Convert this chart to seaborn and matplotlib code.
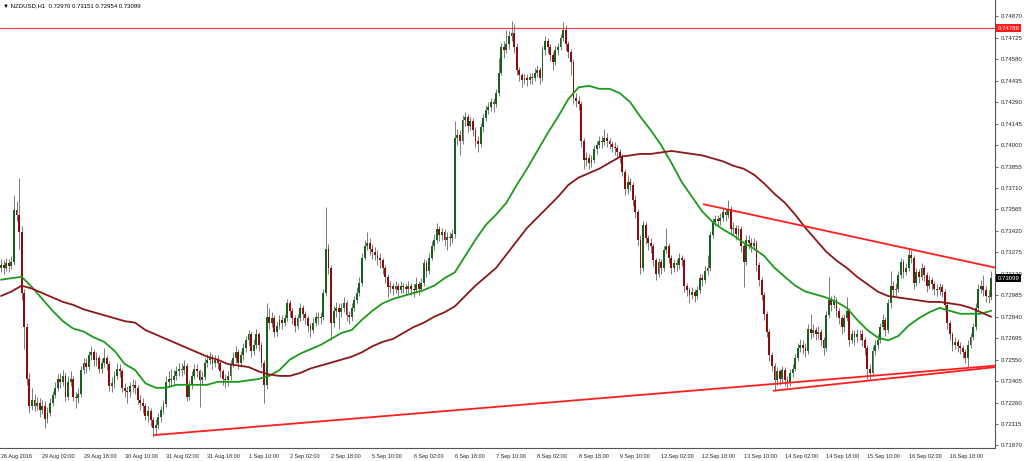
import matplotlib
matplotlib.use("Agg")
import matplotlib.pyplot as plt
import matplotlib.transforms as mtransforms
import seaborn as sns
import numpy as np
import pandas as pd

# NZDUSD H1, prices in units of 0.0001
title_text = "\u25bc NZDUSD,H1  0.72970 0.73151 0.72954 0.73099"
first_open = 7317

closes = [
    7319, 7317, 7320, 7318, 7321, 7356, 7353, 7341, 7300, 7277,
    7242, 7224, 7228, 7224, 7226, 7221, 7224, 7215, 7219, 7226,
    7231, 7236, 7242, 7240, 7244, 7230, 7240, 7242, 7230, 7229,
    7232, 7248, 7253, 7250, 7258, 7260, 7255, 7256, 7249, 7253,
    7256, 7252, 7237, 7239, 7244, 7249, 7247, 7236, 7234, 7233,
    7237, 7238, 7236, 7228, 7226, 7224, 7217, 7220, 7214, 7209,
    7211, 7216, 7221, 7225, 7240, 7242, 7241, 7244, 7247, 7249,
    7248, 7251, 7230, 7238, 7244, 7249, 7247, 7241, 7243, 7253,
    7255, 7256, 7253, 7255, 7253, 7247, 7242, 7241, 7244, 7252,
    7256, 7260, 7253, 7258, 7263, 7268, 7272, 7261, 7265, 7272,
    7265, 7253, 7238, 7284, 7280, 7283, 7274, 7278, 7282, 7280,
    7283, 7293, 7288, 7283, 7278, 7283, 7290, 7286, 7283, 7278,
    7275, 7280, 7284, 7283, 7284, 7300, 7330, 7317, 7280, 7288,
    7290, 7287, 7290, 7293, 7285, 7284, 7290, 7295, 7300, 7307,
    7324, 7332, 7334, 7330, 7328, 7326, 7324, 7322, 7317, 7311,
    7304, 7305, 7303, 7305, 7302, 7305, 7304, 7303, 7305, 7303,
    7302, 7306, 7303, 7307, 7320, 7315, 7324, 7332, 7336, 7343,
    7339, 7341, 7336, 7338, 7337, 7340, 7405, 7407, 7403, 7417,
    7419, 7413, 7416, 7410, 7403, 7401, 7412, 7418, 7424, 7426,
    7429, 7428, 7435, 7449, 7466, 7464, 7468, 7474, 7476, 7466,
    7451, 7447, 7444, 7445, 7444, 7446, 7445, 7449, 7451, 7445,
    7464, 7470, 7466, 7461, 7456, 7464, 7466, 7472, 7478, 7468,
    7463, 7456, 7432, 7430, 7428, 7403, 7390, 7391, 7388, 7390,
    7397, 7400, 7403, 7402, 7405, 7403, 7401, 7399, 7398, 7395,
    7392, 7382, 7370, 7375, 7373, 7363, 7355, 7336, 7317, 7346,
    7337, 7334, 7332, 7322, 7313, 7321, 7317, 7329, 7332, 7324,
    7317, 7320, 7319, 7324, 7322, 7305, 7302, 7299, 7301, 7298,
    7302, 7310, 7309, 7315, 7317, 7339, 7348, 7350, 7349, 7351,
    7355, 7353, 7357, 7343, 7344, 7340, 7343, 7332, 7321, 7336,
    7334, 7332, 7334, 7319, 7309, 7299, 7286, 7274, 7258, 7251,
    7241, 7247, 7242, 7248, 7241, 7239, 7246, 7249, 7256, 7263,
    7265, 7263, 7261, 7276, 7273, 7275, 7272, 7274, 7268, 7263,
    7285, 7295, 7292, 7295, 7288, 7283, 7277, 7283, 7288, 7268,
    7272, 7270, 7272, 7272, 7268, 7263, 7249, 7246, 7261, 7265,
    7268, 7277, 7282, 7275, 7293, 7305, 7302, 7303, 7312, 7321,
    7314, 7317, 7326, 7324, 7307, 7314, 7311, 7317, 7312, 7305,
    7309, 7306, 7303, 7302, 7304, 7301, 7292, 7280, 7272, 7265,
    7267, 7264, 7263, 7260, 7256, 7265, 7270, 7277, 7290, 7303,
    7305, 7302, 7298, 7297, 7310,
]

highs = [
    7323, 7322, 7324, 7323, 7325, 7366, 7362, 7378, 7345, 7303,
    7280, 7246, 7236, 7232, 7230, 7229, 7228, 7227, 7223, 7229,
    7234, 7240, 7245, 7246, 7248, 7246, 7244, 7247, 7244, 7233,
    7236, 7251, 7256, 7256, 7261, 7264, 7262, 7260, 7258, 7256,
    7263, 7258, 7254, 7243, 7247, 7253, 7252, 7249, 7239, 7237,
    7240, 7242, 7241, 7238, 7231, 7229, 7226, 7224, 7222, 7216,
    7215, 7219, 7224, 7228, 7244, 7247, 7249, 7248, 7251, 7253,
    7253, 7255, 7253, 7241, 7247, 7252, 7252, 7249, 7247, 7256,
    7259, 7260, 7259, 7258, 7258, 7255, 7249, 7245, 7247, 7255,
    7260, 7264, 7262, 7261, 7266, 7271, 7275, 7274, 7269, 7276,
    7274, 7267, 7255, 7293, 7290, 7287, 7285, 7281, 7285, 7285,
    7286, 7296, 7295, 7290, 7285, 7286, 7293, 7292, 7288, 7285,
    7280, 7283, 7287, 7287, 7287, 7303, 7358, 7333, 7319, 7291,
    7294, 7293, 7293, 7297, 7295, 7288, 7293, 7298, 7304, 7311,
    7327, 7336, 7341, 7337, 7333, 7331, 7329, 7327, 7324, 7319,
    7313, 7308, 7307, 7308, 7307, 7308, 7307, 7306, 7308, 7307,
    7306, 7311, 7308, 7310, 7323, 7322, 7327, 7335, 7340, 7347,
    7345, 7344, 7343, 7341, 7341, 7343, 7416, 7411, 7410, 7420,
    7422, 7421, 7419, 7418, 7412, 7406, 7415, 7421, 7427, 7429,
    7432, 7432, 7438, 7459, 7469, 7470, 7478, 7477, 7484, 7482,
    7469, 7453, 7449, 7448, 7448, 7449, 7449, 7452, 7454, 7453,
    7467, 7474, 7472, 7468, 7463, 7467, 7469, 7475, 7483, 7481,
    7470, 7465, 7458, 7435, 7433, 7430, 7405, 7395, 7394, 7393,
    7400, 7403, 7406, 7406, 7411, 7408, 7405, 7403, 7402, 7400,
    7397, 7394, 7384, 7380, 7378, 7375, 7366, 7357, 7339, 7349,
    7348, 7339, 7337, 7334, 7324, 7324, 7323, 7332, 7344, 7334,
    7326, 7323, 7323, 7327, 7326, 7324, 7307, 7304, 7304, 7303,
    7305, 7313, 7313, 7318, 7326, 7342, 7351, 7353, 7353, 7354,
    7358, 7357, 7363, 7359, 7348, 7346, 7346, 7345, 7334, 7339,
    7339, 7337, 7337, 7336, 7321, 7311, 7301, 7288, 7276, 7260,
    7253, 7250, 7249, 7251, 7250, 7244, 7249, 7252, 7259, 7266,
    7269, 7268, 7266, 7279, 7286, 7279, 7277, 7278, 7276, 7270,
    7288, 7311, 7298, 7299, 7297, 7290, 7285, 7286, 7297, 7290,
    7275, 7275, 7276, 7275, 7275, 7270, 7265, 7252, 7264, 7268,
    7272, 7280, 7286, 7284, 7296, 7315, 7308, 7307, 7315, 7324,
    7323, 7320, 7330, 7329, 7326, 7317, 7316, 7320, 7319, 7314,
    7312, 7311, 7308, 7306, 7307, 7306, 7303, 7294, 7282, 7274,
    7270, 7269, 7267, 7265, 7262, 7268, 7273, 7280, 7293, 7306,
    7309, 7312, 7305, 7302, 7315,
]

lows = [
    7314, 7313, 7315, 7314, 7316, 7319, 7349, 7330, 7295, 7262,
    7238, 7219, 7221, 7220, 7221, 7216, 7218, 7209, 7212, 7217,
    7224, 7229, 7234, 7236, 7237, 7227, 7228, 7237, 7227, 7222,
    7226, 7230, 7245, 7246, 7248, 7255, 7251, 7251, 7246, 7246,
    7250, 7248, 7234, 7233, 7236, 7242, 7243, 7233, 7230, 7226,
    7230, 7233, 7232, 7225, 7221, 7219, 7214, 7213, 7210, 7203,
    7205, 7208, 7213, 7218, 7223, 7237, 7237, 7238, 7241, 7244,
    7244, 7245, 7227, 7228, 7235, 7242, 7243, 7223, 7238, 7241,
    7250, 7252, 7249, 7250, 7249, 7243, 7238, 7236, 7237, 7241,
    7250, 7253, 7249, 7250, 7255, 7260, 7264, 7257, 7258, 7262,
    7261, 7250, 7226, 7235, 7276, 7277, 7270, 7271, 7276, 7276,
    7278, 7281, 7284, 7279, 7274, 7276, 7281, 7282, 7279, 7274,
    7270, 7273, 7278, 7279, 7279, 7282, 7298, 7313, 7268, 7277,
    7284, 7276, 7284, 7287, 7281, 7279, 7281, 7288, 7293, 7298,
    7305, 7322, 7329, 7326, 7323, 7322, 7319, 7317, 7313, 7307,
    7297, 7300, 7299, 7300, 7298, 7300, 7300, 7299, 7300, 7299,
    7297, 7300, 7299, 7301, 7305, 7311, 7313, 7322, 7329, 7334,
    7335, 7336, 7332, 7329, 7332, 7334, 7337, 7400, 7393, 7401,
    7413, 7409, 7410, 7406, 7399, 7395, 7399, 7409, 7416, 7421,
    7423, 7422, 7426, 7433, 7447, 7459, 7462, 7465, 7470, 7462,
    7447, 7443, 7439, 7441, 7440, 7441, 7441, 7443, 7446, 7441,
    7443, 7461, 7462, 7457, 7451, 7454, 7461, 7464, 7470, 7464,
    7459, 7447, 7428, 7426, 7424, 7399, 7384, 7386, 7384, 7385,
    7388, 7394, 7398, 7398, 7400, 7399, 7397, 7395, 7393, 7391,
    7388, 7379, 7366, 7367, 7369, 7359, 7351, 7332, 7313, 7315,
    7333, 7329, 7327, 7318, 7309, 7311, 7313, 7315, 7327, 7320,
    7313, 7314, 7315, 7316, 7318, 7301, 7298, 7293, 7296, 7294,
    7296, 7300, 7305, 7307, 7312, 7315, 7337, 7345, 7345, 7346,
    7349, 7349, 7351, 7339, 7339, 7336, 7337, 7328, 7304, 7319,
    7330, 7328, 7329, 7315, 7305, 7295, 7282, 7270, 7254, 7247,
    7234, 7238, 7238, 7240, 7237, 7236, 7237, 7243, 7247, 7254,
    7260, 7259, 7257, 7259, 7269, 7270, 7268, 7269, 7264, 7258,
    7261, 7283, 7288, 7290, 7284, 7279, 7272, 7274, 7281, 7264,
    7266, 7265, 7267, 7268, 7264, 7258, 7241, 7242, 7244, 7258,
    7262, 7266, 7275, 7271, 7273, 7290, 7298, 7298, 7301, 7310,
    7310, 7312, 7315, 7320, 7303, 7305, 7307, 7309, 7308, 7301,
    7303, 7302, 7299, 7298, 7299, 7297, 7288, 7276, 7268, 7261,
    7262, 7260, 7259, 7256, 7253, 7250, 7263, 7268, 7275, 7288,
    7300, 7298, 7294, 7293, 7295,
]

# moving averages read every 4 bars
ma_bars = list(range(0, 385, 4))
ma_fast = [
    7309, 7310, 7311, 7304, 7296, 7288, 7281, 7276, 7274, 7270,
    7267, 7261, 7252, 7248, 7239, 7236, 7236, 7238, 7238, 7238,
    7238, 7240, 7240, 7240, 7241, 7242, 7244, 7248, 7255, 7259,
    7262, 7265, 7269, 7273, 7275, 7282, 7288, 7293, 7296, 7298,
    7300, 7302, 7305, 7310, 7314, 7325, 7336, 7346, 7353, 7361,
    7373, 7384, 7396, 7408, 7419, 7431, 7439, 7440, 7438, 7438,
    7435, 7429, 7419, 7410, 7400, 7388, 7375, 7365, 7355, 7348,
    7343, 7339, 7334, 7330, 7325, 7317, 7311, 7305, 7301, 7299,
    7297, 7294, 7290, 7282, 7275, 7270, 7268, 7271, 7278, 7283,
    7287, 7290, 7288, 7286, 7286, 7286, 7288,
]
ma_slow = [
    7298, 7301, 7305, 7303, 7300, 7297, 7294, 7292, 7289, 7287,
    7285, 7283, 7281, 7280, 7275, 7272, 7269, 7266, 7263, 7260,
    7257, 7255, 7252, 7251, 7250, 7247, 7245, 7244, 7244, 7246,
    7249, 7251, 7253, 7255, 7257, 7260, 7264, 7267, 7269, 7273,
    7277, 7280, 7284, 7287, 7291, 7298, 7305, 7311, 7317, 7326,
    7335, 7344, 7351, 7358, 7365, 7373, 7378, 7381, 7384, 7388,
    7392, 7393, 7394, 7394, 7395, 7396, 7395, 7394, 7393, 7391,
    7389, 7386, 7384, 7380, 7374, 7367, 7361, 7353, 7344, 7336,
    7328, 7322, 7317, 7311, 7306, 7301, 7298, 7297, 7296, 7295,
    7294, 7294, 7293, 7292, 7290, 7287, 7284,
]

# trend lines: (bar, price) end points
upper_line = ([272.5, 386.0], [0.7360, 0.7317])
lower_long = ([59.3, 386.0], [0.7204, 0.7251])
lower_short = ([299.6, 386.0], [0.7234, 0.7250])
resistance = 0.74789
last_price = 0.73099

x_labels = ["26 Aug 2016", "29 Aug 02:00", "29 Aug 18:00", "30 Aug 10:00",
            "31 Aug 02:00", "31 Aug 18:00", "1 Sep 10:00", "2 Sep 02:00",
            "2 Sep 18:00", "5 Sep 10:00", "6 Sep 02:00", "6 Sep 18:00",
            "7 Sep 10:00", "8 Sep 02:00", "8 Sep 18:00", "9 Sep 10:00",
            "12 Sep 02:00", "12 Sep 18:00", "13 Sep 10:00", "14 Sep 02:00",
            "14 Sep 18:00", "15 Sep 10:00", "16 Sep 02:00", "16 Sep 18:00"]
y_ticks = [0.74870, 0.74725, 0.74580, 0.74435, 0.74290, 0.74145, 0.74000,
           0.73855, 0.73710, 0.73565, 0.73420, 0.73275, 0.73130, 0.72985,
           0.72840, 0.72695, 0.72550, 0.72405, 0.72260, 0.72115, 0.71970]

sns.set_style("white")
plt.rcParams['font.family'] = ['Liberation Sans', 'DejaVu Sans']

df = pd.DataFrame({
    'bar': np.arange(len(closes)),
    'open': np.r_[first_open, closes[:-1]] / 10000,
    'close': np.array(closes) / 10000,
    'high': np.array(highs) / 10000,
    'low': np.array(lows) / 10000,
})
df['up'] = df['close'] >= df['open']

ma_df = pd.DataFrame({
    'bar': ma_bars + ma_bars,
    'price': np.r_[ma_fast, ma_slow] / 10000,
    'ma': ['fast'] * len(ma_fast) + ['slow'] * len(ma_slow),
})

fig = plt.figure(figsize=(10.24, 4.61), dpi=100)
ax = fig.add_axes([0, 1 - 448 / 461, 995 / 1024, 448 / 461])

# candles
ax.vlines(df['bar'], df['low'], df['high'], color='#7a7a7a', lw=0.7, zorder=2)
body_bottom = df[['open', 'close']].min(axis=1)
body_height = (df['close'] - df['open']).abs().clip(lower=0.00003)
body_colors = np.where(df['up'], '#17621a', '#8e0b0b')
ax.bar(df['bar'], body_height, bottom=body_bottom, width=0.72,
       color=body_colors, linewidth=0, zorder=3)

# moving averages
sns.lineplot(data=ma_df, x='bar', y='price', hue='ma',
             palette={'fast': '#1c9a1c', 'slow': '#8b1818'},
             linewidth=1.3, legend=False, ax=ax, zorder=4)
for line in ax.get_lines():
    line.set_solid_joinstyle('round')

# trend lines and resistance
for xs, ys in (upper_line, lower_long, lower_short):
    sns.lineplot(x=xs, y=ys, color='#ff1e1e', linewidth=1.3, ax=ax, zorder=5)
ax.axhline(resistance, color='#e8494b', lw=0.9, zorder=5)

ax.set_xlim(-0.4, 385.5)
ax.set_ylim(0.71953, 0.74980)

ax.set_xticks(range(0, 16 * len(x_labels), 16))
ax.set_xticklabels(x_labels, fontsize=4.0, ha='left')
ax.yaxis.tick_right()
ax.set_yticks(y_ticks)
ax.set_yticklabels([f"{v:.5f}" for v in y_ticks], fontsize=4.3)
ax.tick_params(axis='x', length=3, width=0.6, pad=1.5, color='#555555')
ax.tick_params(axis='y', length=2.5, width=0.6, pad=1.5, color='#555555')
ax.set_xlabel("")
ax.set_ylabel("")

for side in ('top', 'left'):
    ax.spines[side].set_visible(False)
for side in ('right', 'bottom'):
    ax.spines[side].set_color('#555555')
    ax.spines[side].set_linewidth(0.8)

# price tags on the right scale
trans = mtransforms.blended_transform_factory(ax.transAxes, ax.transData)
ax.text(1.003, resistance, f"{resistance:.5f}", transform=trans, fontsize=4.3,
        color='white', va='center', ha='left', clip_on=False,
        bbox=dict(boxstyle='square,pad=0.25', fc='#ff1a1a', ec='none'))
ax.text(1.003, last_price, f"{last_price:.5f}", transform=trans, fontsize=4.3,
        color='white', va='center', ha='left', clip_on=False,
        bbox=dict(boxstyle='square,pad=0.25', fc='black', ec='none'))

ax.text(0.003, 0.993, title_text, transform=ax.transAxes, fontsize=4.3,
        va='top', ha='left', color='black')

fig.savefig("out.png", dpi=100)
